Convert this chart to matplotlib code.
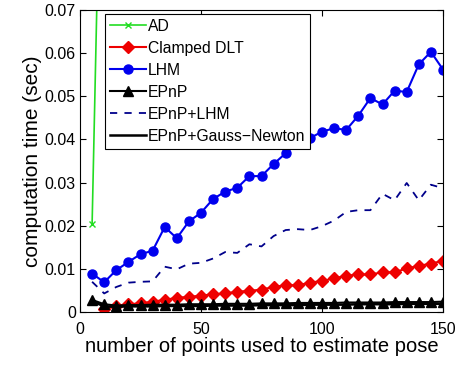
import matplotlib
matplotlib.use("Agg")
import matplotlib.pyplot as plt

plt.rcParams['font.family'] = ['Liberation Sans', 'DejaVu Sans']

x_all = list(range(5, 155, 5))
ad_x = [5, 10]
ad_y = [0.0203, 0.150]
dlt_x = list(range(10, 155, 5))
dlt_y = [0.0006, 0.0014, 0.0018, 0.0020, 0.0024, 0.0028, 0.0033, 0.0035, 0.0038, 0.0041,
         0.0043, 0.0047, 0.0049, 0.0052, 0.0058, 0.0062, 0.0062, 0.0068, 0.0072, 0.0078,
         0.0084, 0.0087, 0.0087, 0.0092, 0.0092, 0.0101, 0.0107, 0.0112, 0.0119]
lhm_y = [0.0089, 0.0069, 0.0097, 0.0116, 0.0134, 0.0142, 0.0197, 0.0171, 0.0210, 0.0230,
         0.0262, 0.0279, 0.0288, 0.0315, 0.0315, 0.0343, 0.0368, 0.0395, 0.0403, 0.0418,
         0.0426, 0.0422, 0.0455, 0.0496, 0.0481, 0.0513, 0.0510, 0.0574, 0.0603, 0.0562]
epnp_y = [0.0028, 0.0018, 0.0015, 0.0016, 0.0016, 0.0017, 0.0017, 0.0017, 0.0018, 0.0018,
          0.0018, 0.0019, 0.0019, 0.0019, 0.0020, 0.0020, 0.0020, 0.0021, 0.0021, 0.0021,
          0.0021, 0.0022, 0.0022, 0.0022, 0.0022, 0.0023, 0.0023, 0.0023, 0.0023, 0.0024]
epnp_lhm_y = [0.0070, 0.0043, 0.0058, 0.0068, 0.0070, 0.0071, 0.0105, 0.0099, 0.0112, 0.0114,
              0.0124, 0.0139, 0.0137, 0.0157, 0.0152, 0.0176, 0.0190, 0.0192, 0.0190, 0.0199,
              0.0212, 0.0232, 0.0236, 0.0236, 0.0274, 0.0259, 0.0299, 0.0259, 0.0295, 0.0287]
epnp_gn_y = [0.0025, 0.0013, 0.0012, 0.0013, 0.0013, 0.0013, 0.0014, 0.0014, 0.0014, 0.0014,
             0.0015, 0.0015, 0.0015, 0.0015, 0.0016, 0.0016, 0.0016, 0.0016, 0.0017, 0.0017,
             0.0017, 0.0017, 0.0018, 0.0018, 0.0018, 0.0018, 0.0019, 0.0019, 0.0019, 0.0019]

fig = plt.figure(figsize=(4.77, 3.69), dpi=100)
ax = fig.add_axes([80/477, 1-312/369, (443-80)/477, (312-10)/369])

ax.plot(ad_x, ad_y, color='#22dd22', marker='x', markersize=4, lw=1.2, label='AD')
ax.plot(dlt_x, dlt_y, color='#ee0000', marker='D', markersize=6.5, lw=1.5, label='Clamped DLT')
ax.plot(x_all, lhm_y, color='#0000ee', marker='o', markersize=6.5, lw=1.5, label='LHM')
ax.plot(x_all, epnp_y, color='black', marker='^', markersize=6.5, lw=1.5, label='EPnP')
ax.plot(x_all, epnp_lhm_y, color='#00008b', ls=(0, (4, 4)), lw=1.3, label='EPnP+LHM')
ax.plot(x_all, epnp_gn_y, color='black', lw=1.8, label='EPnP+Gauss\u2212Newton')

ax.set_xlim(0, 150)
ax.set_ylim(0, 0.07)
ax.set_xticks([0, 50, 100, 150])
ax.set_yticks([0, 0.01, 0.02, 0.03, 0.04, 0.05, 0.06, 0.07])
ax.set_yticklabels(['0', '0.01', '0.02', '0.03', '0.04', '0.05', '0.06', '0.07'])
ax.tick_params(direction='in', top=True, right=True, labelsize=11.5, length=4, width=0.8)
ax.tick_params(axis='x', pad=7)
ax.tick_params(axis='y', pad=3)
ax.set_xlabel('number of points used to estimate pose', fontsize=14.5, labelpad=0)
ax.set_ylabel('computation time (sec)', fontsize=15, labelpad=2)

leg = ax.legend(loc='upper left', bbox_to_anchor=(0.069, 0.987), fontsize=11.3, handlelength=2.3,
                handletextpad=0.15, borderpad=0.3, borderaxespad=0, labelspacing=0.45,
                fancybox=False, framealpha=1, edgecolor='black')
leg.get_frame().set_linewidth(0.8)

fig.savefig('out.png', dpi=100)
